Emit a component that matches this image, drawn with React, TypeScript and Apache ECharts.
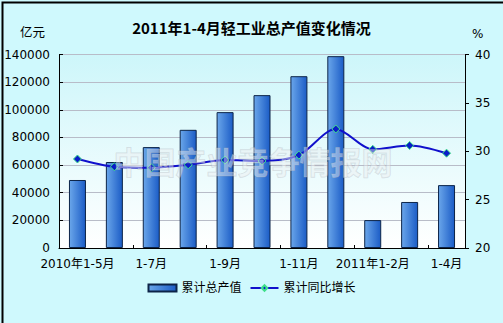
import React, { useEffect, useRef } from "react";
import * as echarts from "echarts";

const categories = [
  "2010年1-5月", "1-6月", "1-7月", "1-8月", "1-9月", "1-10月",
  "1-11月", "1-12月", "2011年1-2月", "1-3月", "1-4月",
];
const outputValue = [49200, 62200, 73000, 85500, 98300, 110600, 124300, 138800, 20200, 33300, 45500];
const growthRate = [29.2, 28.4, 28.3, 28.6, 29.1, 29.0, 29.6, 32.3, 30.2, 30.6, 29.8];
const leftTicks = { min: 0, max: 140000, interval: 20000 };
const rightTicks = { min: 20, max: 40, interval: 5 };
const titleText = "2011年1-4月轻工业总产值变化情况";
const seriesNames = ["累计总产值", "累计同比增长"];
const leftUnit = "亿元";
const rightUnit = "%";
const watermark = "中国产业竞争情报网";

export default function App() {
  const ref = useRef<HTMLDivElement>(null);
  useEffect(() => {
    if (!ref.current) return;
    const chart = echarts.init(ref.current, null, { renderer: "svg" });
    const font = "DejaVu Sans, 'Noto Sans CJK SC', sans-serif";
    chart.setOption({
      animation: false,
      backgroundColor: "#cff9fd",
      textStyle: { fontFamily: font },
      title: {
        text: titleText,
        left: "center",
        top: 15,
        textStyle: { fontSize: 15, fontWeight: "bold", color: "#000", fontFamily: "'Noto Sans CJK SC', sans-serif" },
      },
      legend: {
        bottom: 24,
        left: "center",
        itemGap: 8,
        itemWidth: 28,
        itemHeight: 7,
        textStyle: { fontSize: 12, color: "#000", fontFamily: font },
        data: [
          { name: seriesNames[0], icon: "rect" },
          { name: seriesNames[1] },
        ],
      },
      grid: {
        left: 59,
        right: 38,
        top: 54.5,
        bottom: 75,
        show: true,
        borderWidth: 0,
        backgroundColor: new echarts.graphic.LinearGradient(0, 0, 0, 1, [
          { offset: 0, color: "#cdf6fa" },
          { offset: 1, color: "#ffffff" },
        ]),
      },
      xAxis: {
        type: "category",
        data: categories,
        boundaryGap: true,
        axisLine: { lineStyle: { color: "#000", width: 1 } },
        axisTick: { show: true, inside: true, length: 3, lineStyle: { color: "#000" } },
        axisLabel: { interval: 1, color: "#000", fontSize: 12, margin: 10, fontFamily: font },
      },
      yAxis: [
        {
          type: "value",
          ...leftTicks,
          axisLine: { show: true, lineStyle: { color: "#000" } },
          axisTick: { show: true, inside: true, length: 4, lineStyle: { color: "#000" } },
          axisLabel: { color: "#000", fontSize: 12, margin: 9, fontFamily: font, formatter: (v: number) => String(v) },
          splitLine: { show: true, lineStyle: { color: "#b8bcc8", width: 1 } },
        },
        {
          type: "value",
          ...rightTicks,
          position: "right",
          axisLine: { show: true, lineStyle: { color: "#000" } },
          axisTick: { show: true, inside: false, length: 4, lineStyle: { color: "#000" } },
          axisLabel: { color: "#000", fontSize: 12, margin: 10, fontFamily: font, formatter: (v: number) => String(v) },
          splitLine: { show: false },
        },
      ],
      series: [
        {
          name: seriesNames[0],
          type: "bar",
          data: outputValue,
          barWidth: 17,
          yAxisIndex: 0,
          itemStyle: {
            color: new echarts.graphic.LinearGradient(0, 0, 1, 0, [
              { offset: 0, color: "#6aa6ea" },
              { offset: 1, color: "#1b5cc6" },
            ]),
            borderColor: "#0c2448",
            borderWidth: 1,
          },
        },
        {
          name: seriesNames[1],
          type: "line",
          data: growthRate,
          yAxisIndex: 1,
          smooth: 0.3,
          symbol: "diamond",
          symbolSize: 8,
          lineStyle: { color: "#1010cc", width: 2 },
          itemStyle: { color: "#0a1ec8", borderColor: "#3ee08a", borderWidth: 1 },
          z: 3,
        },
      ],
      graphic: [
        {
          type: "text",
          left: 20,
          top: 25,
          style: { text: leftUnit, fontSize: 12.5, fill: "#000", fontFamily: "'Noto Sans CJK SC', sans-serif" },
        },
        {
          type: "text",
          left: 472,
          top: 28,
          style: { text: rightUnit, fontSize: 12, fill: "#000", fontFamily: font },
        },
        {
          type: "text",
          left: 113,
          top: 144,
          z: 100,
          style: {
            text: watermark,
            fontSize: 31,
            fontWeight: "bold",
            fill: "rgba(236,238,240,0.45)",
            stroke: "rgba(160,165,175,0.35)",
            lineWidth: 1,
            fontFamily: "'Noto Sans CJK SC', sans-serif",
          },
        },
        {
          type: "rect",
          left: 0,
          top: 0,
          z: 100,
          shape: { x: 0, y: 0, width: 503, height: 323 },
          style: { fill: "none", stroke: "#000", lineWidth: 2 },
        },
      ],
    });
    return () => chart.dispose();
  }, []);
  return (
    <div
      ref={ref}
      style={{ position: "fixed", left: 0, top: 0, width: 503, height: 323 }}
    />
  );
}
